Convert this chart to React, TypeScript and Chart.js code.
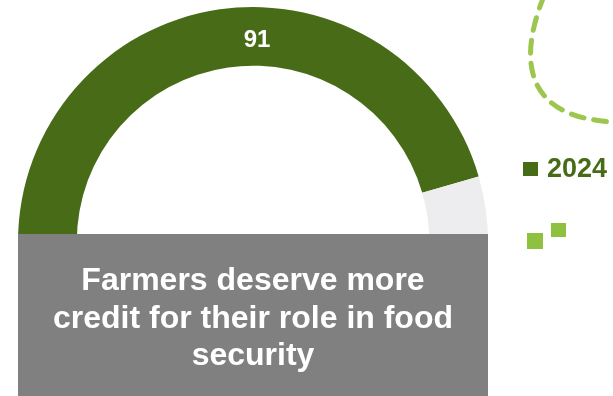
import React, { useEffect, useRef } from "react";
import { Chart, registerables } from "chart.js";

Chart.register(...registerables);

// ---- data ----
const categories: string[] = ["Agree", "Rest"];
const seriesLabel = "2024";
const seriesValues: number[] = [91, 9];
const seriesColors: string[] = ["#486B17", "#EDECEF"];
const statementLines: string[] = [
  "Farmers deserve more",
  "credit for their role in food",
  "security",
];

const FONT = '"Liberation Sans", Arial, sans-serif';

const decorPlugin = {
  id: "decor",
  afterDraw(chart: any) {
    const ctx: CanvasRenderingContext2D = chart.ctx;
    const meta = chart.getDatasetMeta(0);
    const arc: any = meta.data[0];
    if (!arc) return;
    const { x, y, outerRadius, innerRadius } = arc.getProps(
      ["x", "y", "outerRadius", "innerRadius"],
      true
    );
    ctx.save();
    // value label
    ctx.fillStyle = "#FFFFFF";
    ctx.font = `bold 24px ${FONT}`;
    ctx.textAlign = "center";
    ctx.textBaseline = "middle";
    ctx.fillText(String(seriesValues[0]), x + 4, y - (outerRadius + innerRadius) / 2 + 4);

    // grey statement box
    const left = x - outerRadius;
    const boxTop = y - 8;
    ctx.fillStyle = "#808080";
    ctx.fillRect(left, boxTop, outerRadius * 2, chart.height - boxTop);
    ctx.fillStyle = "#FFFFFF";
    ctx.font = `bold 32px ${FONT}`;
    ctx.textBaseline = "alphabetic";
    statementLines.forEach((line, i) => {
      ctx.fillText(line, x, boxTop + 56 + i * 37.5);
    });

    // legend
    const lx = x + outerRadius + 35;
    const ly = 169;
    ctx.fillStyle = seriesColors[0];
    ctx.fillRect(lx, ly - 7, 15, 14);
    ctx.font = `bold 27px ${FONT}`;
    ctx.textAlign = "left";
    ctx.textBaseline = "middle";
    ctx.fillText(seriesLabel, lx + 24, ly + 1);

    // decorative squares
    ctx.fillStyle = "#8DC13F";
    ctx.fillRect(lx + 4, 233, 16, 16);
    ctx.fillRect(lx + 28, 223, 15, 14);

    // decorative dashed curve
    ctx.strokeStyle = "#9CC64E";
    ctx.lineWidth = 5;
    ctx.lineCap = "round";
    ctx.setLineDash([13, 10]);
    ctx.beginPath();
    ctx.moveTo(544, -4);
    ctx.bezierCurveTo(524, 45, 512, 118, 616, 122);
    ctx.stroke();
    ctx.restore();
  },
};

export default function App() {
  const ref = useRef<HTMLCanvasElement | null>(null);
  useEffect(() => {
    if (!ref.current) return;
    const chart = new Chart(ref.current, {
      type: "doughnut",
      data: {
        labels: categories,
        datasets: [
          {
            label: seriesLabel,
            data: seriesValues,
            backgroundColor: seriesColors,
            borderWidth: 0,
          },
        ],
      },
      options: {
        animation: false,
        responsive: false,
        rotation: -90,
        circumference: 180,
        cutout: "75%",
        layout: { padding: { left: 18, right: 125, top: 7, bottom: 154 } },
        plugins: {
          legend: { display: false },
          tooltip: { enabled: false },
        },
      },
      plugins: [decorPlugin],
    });
    return () => chart.destroy();
  }, []);
  return (
    <div style={{ position: "absolute", left: 0, top: 0, width: 613, height: 396, background: "#fff" }}>
      <canvas ref={ref} width={613} height={396} />
    </div>
  );
}
